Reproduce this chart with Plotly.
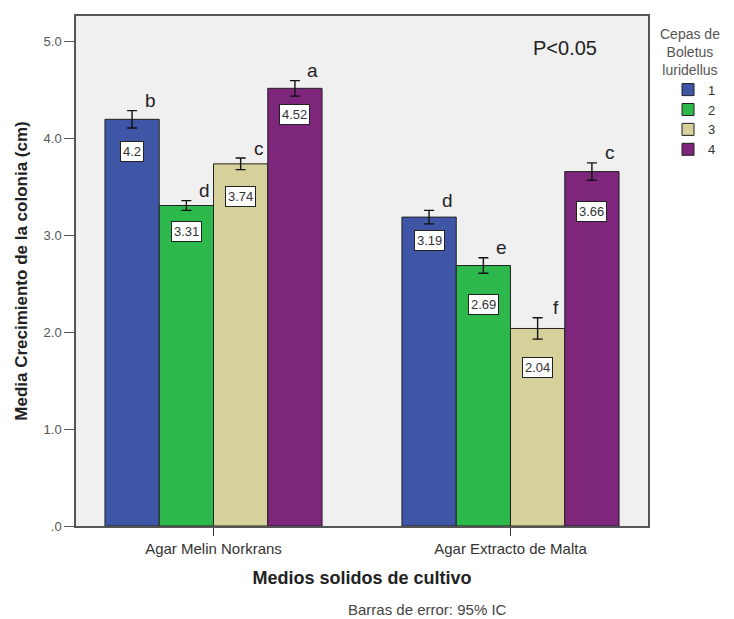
import plotly.graph_objects as go

categories = ["Agar Melin Norkrans", "Agar Extracto de Malta"]
strains = ["1", "2", "3", "4"]
means = {
    "1": [4.20, 3.19],
    "2": [3.31, 2.69],
    "3": [3.74, 2.04],
    "4": [4.52, 3.66],
}
ci = {
    "1": [0.09, 0.07],
    "2": [0.05, 0.08],
    "3": [0.06, 0.11],
    "4": [0.08, 0.09],
}
letters = {
    "1": ["b", "d"],
    "2": ["d", "e"],
    "3": ["c", "f"],
    "4": ["a", "c"],
}
value_labels = {
    "1": ["4.2", "3.19"],
    "2": ["3.31", "2.69"],
    "3": ["3.74", "2.04"],
    "4": ["4.52", "3.66"],
}
y_ticks = [0, 1, 2, 3, 4, 5]
y_tick_text = [".0", "1.0", "2.0", "3.0", "4.0", "5.0"]

colors = {"1": "#3F55A5", "2": "#2DB84B", "3": "#D6D09B", "4": "#7D267B"}
label_offset_px = {
    "1": [32, 23],
    "2": [26, 39],
    "3": [33, 39],
    "4": [26, 40],
}

xpos = [0, 1]
group_w = 0.731
bar_w = group_w / 4
y_max = 5.267

fig = go.Figure()
for i, s in enumerate(strains):
    fig.add_trace(go.Bar(
        x=xpos, y=means[s], name=s,
        marker=dict(color=colors[s], line=dict(color="#222222", width=1)),
        error_y=dict(type="data", array=ci[s], color="#111111", thickness=1.4, width=5),
        offsetgroup=s,
    ))

px_per_unit = 512 / y_max
for i, s in enumerate(strains):
    for j, x0 in enumerate(xpos):
        xc = x0 - group_w / 2 + bar_w * (i + 0.5)
        top = means[s][j] + ci[s][j]
        fig.add_annotation(x=xc, y=top, text=letters[s][j], showarrow=False,
                           xshift=18, yshift=10, font=dict(size=19, color="#222222"))
        fig.add_annotation(x=xc, y=means[s][j] - label_offset_px[s][j] / px_per_unit,
                           text=value_labels[s][j], showarrow=False,
                           bgcolor="white", bordercolor="#222222", borderwidth=1, borderpad=2,
                           font=dict(size=13, color="#333333"))

fig.add_annotation(x=0.855, y=0.9375, xref="paper", yref="paper", text="P<0.05",
                   xanchor="center", yanchor="middle",
                   showarrow=False, font=dict(size=20, color="#222222"))
fig.add_annotation(x=0.614, y=-0.164, xref="paper", yref="paper",
                   xanchor="center", yanchor="middle",
                   text="Barras de error: 95% IC", showarrow=False,
                   font=dict(size=15, color="#444444"))
fig.add_annotation(x=1.073, y=0.985, xref="paper", yref="paper",
                   xanchor="center", yanchor="top", align="center",
                   text="Cepas de<br>Boletus<br>luridellus", showarrow=False,
                   font=dict(size=14, color="#555555"))

fig.update_layout(
    width=734, height=619,
    margin=dict(l=68, r=94, t=6, b=101),
    paper_bgcolor="white", plot_bgcolor="#F0F0F0",
    barmode="group", bargap=1 - group_w, bargroupgap=0,
    font=dict(family="Arial, Liberation Sans, sans-serif", color="#333333"),
    showlegend=True,
    legend=dict(
        x=1.035, y=0.885, xanchor="left", yanchor="top",
        bgcolor="rgba(0,0,0,0)",
        font=dict(size=13, color="#333333"),
        itemwidth=30, tracegroupgap=0,
    ),
    xaxis=dict(
        range=[-0.463, 1.463], tickvals=xpos, ticktext=categories,
        ticks="outside", ticklen=8, tickcolor="#333333",
        showline=True, mirror=True, linecolor="#555555", linewidth=1.5,
        showgrid=False, zeroline=False,
        tickfont=dict(size=15, color="#333333"),
        title=dict(text="<b>Medios solidos de cultivo</b>", font=dict(size=18, color="#222222"), standoff=16),
    ),
    yaxis=dict(
        range=[0, y_max], tickvals=y_ticks, ticktext=y_tick_text,
        ticks="outside", ticklen=10, tickcolor="#555555",
        showline=True, mirror=True, linecolor="#555555", linewidth=1.5,
        showgrid=False, zeroline=False,
        tickfont=dict(size=13, color="#555555"),
        title=dict(text="<b>Media Crecimiento de la colonia (cm)</b>", font=dict(size=17, color="#222222"), standoff=12),
    ),
)

fig.write_html("out.html")
